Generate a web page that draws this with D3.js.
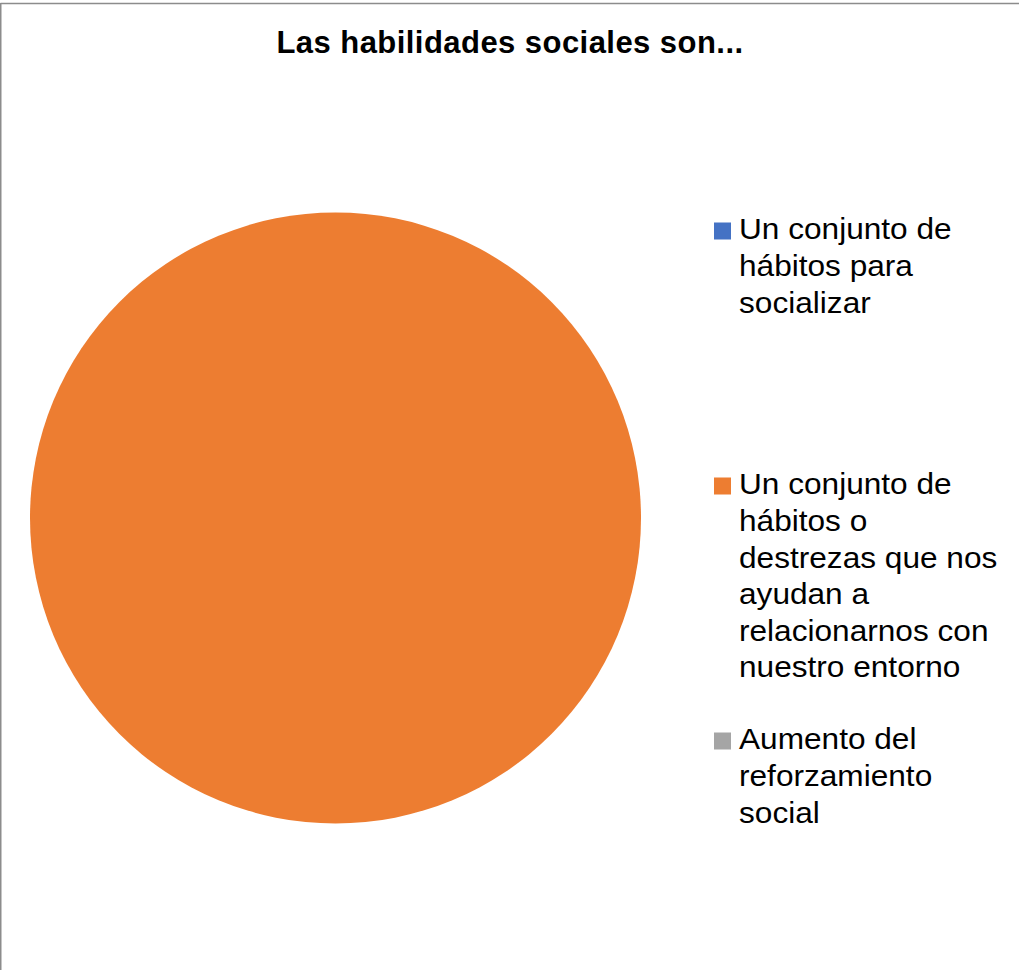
<!DOCTYPE html>
<html>
<head>
<meta charset="utf-8">
<script src="https://cdn.jsdelivr.net/npm/d3@7"></script>
<style>
  html, body { margin: 0; padding: 0; background: #fff; }
  svg { display: block; font-family: "Liberation Sans", Arial, sans-serif; }
</style>
</head>
<body>
<svg id="chart" width="1019" height="970"></svg>
<script>
// Survey answers: "Las habilidades sociales son..."
const categories = [
  "Un conjunto de hábitos para socializar",
  "Un conjunto de hábitos o destrezas que nos ayudan a relacionarnos con nuestro entorno",
  "Aumento del reforzamiento social"
];
const values = [0, 100, 0];
const colors = ["#4472C4", "#ED7D31", "#A5A5A5"];
const title = "Las habilidades sociales son...";

const svg = d3.select("#chart");
const W = 1019, H = 970;

// chart frame (top and left edges)
svg.append("line").attr("x1", 0.5).attr("y1", 3.5).attr("x2", W).attr("y2", 3.5)
  .attr("stroke", "#8c8c8c").attr("stroke-width", 1.5);
svg.append("line").attr("x1", 0.75).attr("y1", 3).attr("x2", 0.75).attr("y2", H)
  .attr("stroke", "#8c8c8c").attr("stroke-width", 1.5);

svg.append("text")
  .attr("x", 510).attr("y", 53)
  .attr("text-anchor", "middle")
  .attr("font-size", 31).attr("font-weight", "bold")
  .attr("letter-spacing", 0.45)
  .attr("fill", "#000")
  .text(title);

// pie
const cx = 335.5, cy = 518, r = 305.5;
const data = categories.map((c, i) => ({ name: c, value: values[i], color: colors[i] }));
const pie = d3.pie().value(d => d.value).sort(null);
const arc = d3.arc().innerRadius(0).outerRadius(r);
const g = svg.append("g").attr("transform", `translate(${cx},${cy})`);
g.selectAll("path")
  .data(pie(data).filter(d => d.data.value > 0))
  .join("path")
  .attr("d", arc)
  .attr("fill", d => d.data.color);

// legend
const fontSize = 29, lineH = 36.6, maxW = 245, stretch = 1.09;
const textX = 739, markX = 714, mark = 17;
const firstBaselines = [239.5, 494.5, 749.5];

function wrap(textSel, str) {
  const words = str.split(" ");
  const lines = [];
  let cur = "";
  const probe = textSel.append("tspan");
  words.forEach(w => {
    const test = cur ? cur + " " + w : w;
    probe.text(test);
    if (probe.node().getComputedTextLength() > maxW && cur) {
      lines.push(cur);
      cur = w;
    } else cur = test;
  });
  lines.push(cur);
  probe.remove();
  return lines;
}

const leg = svg.append("g");
data.forEach((d, i) => {
  const b0 = firstBaselines[i];
  leg.append("rect")
    .attr("x", markX).attr("y", b0 - mark)
    .attr("width", mark).attr("height", mark)
    .attr("fill", d.color);
  const t = leg.append("text")
    .attr("transform", `translate(${textX},0) scale(${stretch},1)`)
    .attr("font-size", fontSize).attr("fill", "#000");
  const lines = wrap(t, d.name);
  lines.forEach((ln, j) => {
    t.append("tspan")
      .attr("x", 0)
      .attr("y", b0 + j * lineH)
      .text(ln);
  });
});
</script>
</body>
</html>
